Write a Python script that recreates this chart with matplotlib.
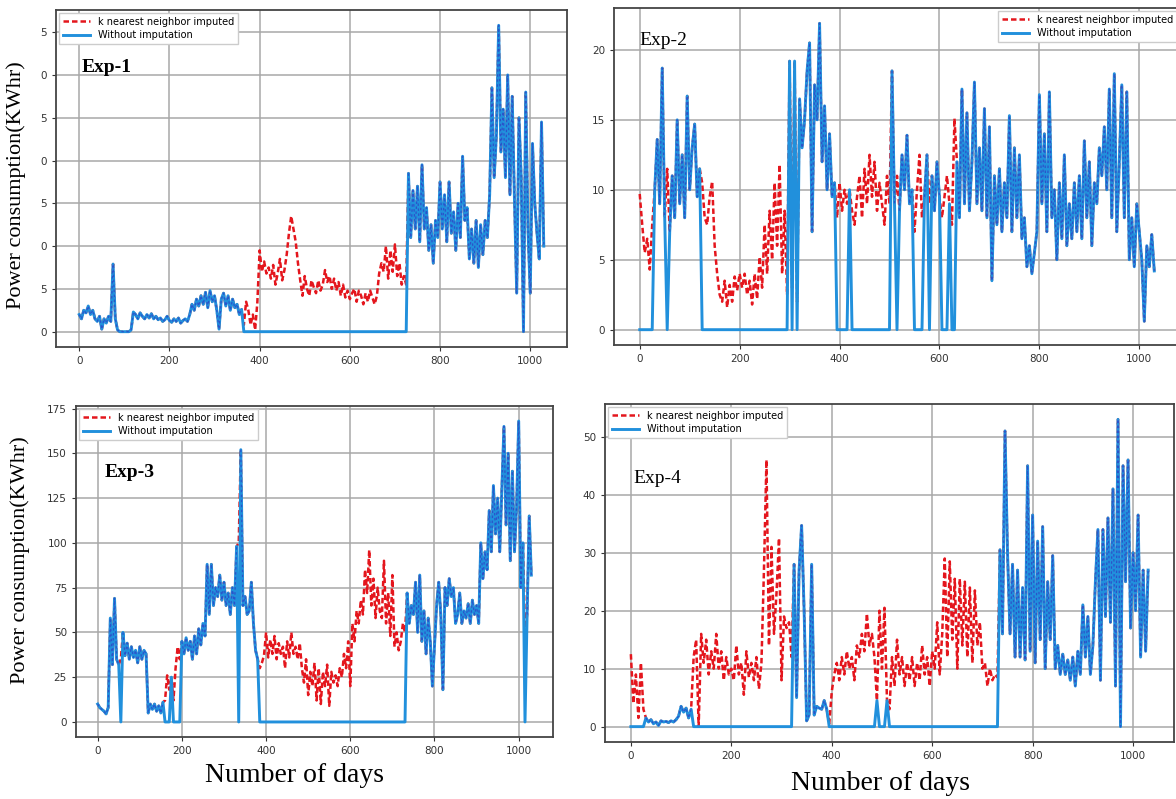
import numpy as np
import matplotlib
matplotlib.use("Agg")
import matplotlib.pyplot as plt

STEP = 5
LABEL_IMP = "k nearest neighbor imputed"
LABEL_RAW = "Without imputation"

exp1 = [
    2.0, 1.5, 2.5, 2.2, 3.0, 2.0, 2.5, 1.5, 1.2, 1.8,
    0.3, 1.5, 1.0, 1.8, 1.2, 7.9, 1.5, 0.2, 0.0, 0.0,
    0.0, 0.0, 0.0, 0.2, 2.3, 2.0, 1.5, 2.2, 1.8, 1.5,
    2.0, 1.6, 2.1, 1.5, 1.8, 1.4, 1.6, 1.2, 1.4, 1.8,
    1.3, 1.1, 1.5, 1.2, 1.6, 1.0, 1.3, 1.5, 1.2, 2.0,
    3.2, 2.5, 3.8, 3.0, 4.2, 3.2, 4.6, 2.8, 4.8, 3.5,
    4.2, 2.5, 0.3, 3.8, 4.5, 3.0, 4.2, 2.5, 3.8, 2.8,
    3.2, 2.0, 2.6, 0.8, 3.5, 2.5, 0.8, 2.0, 0.2, 3.5,
    9.5, 7.0, 8.2, 6.8, 7.5, 6.2, 7.8, 5.5, 6.8, 8.5,
    6.0, 7.2, 9.0, 11.5, 13.5, 12.0, 10.5, 8.0, 6.0, 4.2,
    6.5, 5.0, 4.2, 6.0, 5.2, 4.5, 6.0, 4.8, 5.5, 7.2,
    5.8, 6.5, 5.0, 6.2, 4.8, 5.8, 4.2, 5.5, 4.0, 4.8,
    3.8, 4.5, 5.0, 3.5, 4.8, 4.2, 3.2, 4.5, 3.5, 4.8,
    4.0, 3.2, 4.2, 6.8, 8.0, 7.0, 10.0, 6.2, 9.5, 7.0,
    10.2, 6.5, 8.0, 5.5, 6.5, 5.5, 18.5, 11.0, 16.5, 12.0,
    17.0, 10.5, 19.5, 12.0, 14.5, 9.5, 12.5, 8.0, 13.0, 11.0,
    17.5, 12.0, 16.0, 10.5, 17.5, 11.5, 14.0, 9.5, 15.0, 11.0,
    20.5, 13.0, 14.5, 8.5, 12.0, 8.0, 13.0, 7.5, 12.5, 9.0,
    13.0, 11.0, 16.0, 28.5, 18.0, 23.0, 35.8, 21.0, 26.0, 18.0,
    30.0, 16.0, 27.5, 15.5, 4.5, 25.0, 18.0, 0.0, 28.0, 12.0,
    4.5, 22.0, 15.0, 11.5, 8.5, 24.5, 10.0,
]
exp2 = [
    9.7, 7.5, 5.5, 6.5, 4.3, 7.5, 10.0, 13.6, 9.0, 18.7,
    8.0, 11.5, 7.0, 11.0, 8.0, 15.0, 9.0, 12.5, 8.0, 16.7,
    10.0, 13.0, 14.7, 9.5, 11.5, 10.5, 8.0, 7.5, 9.5, 10.6,
    6.0, 4.0, 2.5, 2.0, 3.5, 1.6, 3.2, 2.0, 3.8, 2.8,
    4.0, 3.0, 4.0, 2.5, 3.5, 1.8, 4.0, 2.2, 5.2, 3.0,
    7.5, 4.0, 8.5, 5.0, 10.5, 6.0, 11.8, 4.0, 8.5, 2.5,
    19.2, 3.0, 19.2, 2.0, 16.5, 13.0, 15.0, 18.5, 20.5, 7.0,
    17.5, 15.0, 21.9, 12.0, 16.0, 10.0, 14.0, 9.5, 10.5, 8.0,
    10.5, 8.5, 10.0, 9.0, 10.0, 8.5, 7.5, 9.5, 11.0, 8.0,
    11.5, 9.0, 12.5, 9.5, 12.0, 8.5, 10.5, 9.0, 7.5, 11.0,
    9.0, 18.5, 9.0, 11.0, 8.5, 12.5, 10.0, 13.9, 9.0, 10.0,
    7.0, 10.0, 12.5, 8.0, 9.5, 12.5, 9.0, 11.0, 8.5, 12.0,
    9.5, 8.0, 9.5, 11.0, 9.0, 7.5, 15.1, 12.0, 8.0, 17.2,
    9.0, 15.5, 8.5, 12.0, 17.7, 9.0, 13.0, 8.5, 15.8, 8.0,
    14.5, 3.5, 11.0, 7.5, 11.5, 7.0, 10.5, 8.0, 15.3, 7.0,
    13.0, 8.0, 12.5, 6.5, 8.0, 4.5, 6.0, 4.0, 5.5, 7.0,
    16.8, 9.0, 14.0, 7.0, 17.0, 8.0, 10.0, 5.0, 10.5, 6.5,
    12.5, 6.0, 9.0, 6.5, 10.5, 7.0, 11.0, 6.5, 13.5, 8.0,
    12.0, 6.0, 10.5, 9.0, 13.0, 11.0, 14.5, 10.0, 17.2, 8.0,
    18.3, 7.0, 12.0, 17.5, 8.0, 17.0, 5.0, 8.0, 4.5, 9.0,
    7.0, 5.0, 0.6, 6.0, 4.5, 6.8, 4.2,
]
exp3 = [
    10, 8, 7, 6, 4.5, 8, 58, 32, 69, 35,
    32, 35, 50, 37, 44, 35, 42, 36, 40, 33,
    42, 35, 40, 38, 5, 10, 7, 10, 6, 9,
    5, 11, 12, 26, 18, 25, 12, 30, 42, 35,
    45, 38, 47, 40, 45, 35, 48, 38, 52, 43,
    55, 48, 88, 60, 88, 65, 75, 70, 82, 68,
    78, 65, 72, 60, 75, 65, 98, 100, 152, 65,
    70, 60, 62, 78, 55, 40, 35, 30, 33, 37,
    50, 36, 46, 38, 48, 35, 44, 38, 42, 30,
    45, 36, 50, 38, 42, 35, 44, 30, 22, 35,
    15, 28, 20, 33, 12, 30, 10, 28, 20, 32,
    9, 28, 22, 26, 20, 30, 25, 38, 30, 45,
    20, 55, 45, 62, 55, 68, 60, 85, 72, 96,
    65, 80, 58, 75, 62, 58, 90, 55, 72, 48,
    82, 42, 50, 40, 45, 55, 50, 72, 55, 65,
    60, 78, 50, 82, 45, 62, 38, 58, 45, 20,
    42, 65, 78, 60, 18, 75, 65, 80, 70, 75,
    55, 60, 72, 55, 62, 58, 66, 55, 68, 60,
    65, 55, 100, 80, 95, 85, 118, 95, 132, 105,
    125, 95, 130, 165, 110, 150, 90, 140, 95, 120,
    168, 75, 100, 50, 60, 115, 82,
]
exp4 = [
    12.5, 4.0, 9.0, 1.5, 11.0, 3.0, 1.5, 0.8, 1.2, 0.5,
    0.8, 0.2, 1.0, 0.8, 0.9, 0.7, 1.0, 0.8, 1.2, 1.8,
    3.5, 2.5, 3.2, 1.5, 3.0, 12.0, 15.0, 0.0, 16.0, 11.0,
    15.0, 9.0, 13.0, 10.0, 16.0, 10.0, 13.0, 8.0, 12.0, 9.0,
    10.0, 8.0, 14.0, 9.0, 11.0, 5.5, 13.0, 8.5, 11.0, 8.0,
    12.0, 6.5, 11.0, 27.0, 46.0, 14.0, 31.0, 16.0, 23.0, 32.5,
    8.0, 19.0, 17.0, 18.0, 12.0, 28.0, 5.0, 27.0, 34.7, 20.0,
    1.0, 2.0, 28.0, 2.0, 3.5, 3.2, 3.0, 4.5, 3.0, 0.5,
    6.0, 9.0, 11.0, 8.0, 12.0, 9.0, 13.0, 10.0, 12.0, 8.0,
    14.0, 12.0, 16.0, 13.0, 19.5, 14.0, 16.0, 12.0, 4.5, 20.0,
    10.0, 20.5, 4.5, 3.0, 12.0, 7.0, 15.0, 9.0, 12.0, 7.0,
    11.0, 8.0, 12.0, 7.0, 11.0, 8.0, 14.0, 9.0, 12.0, 7.0,
    13.0, 10.0, 18.0, 9.0, 16.0, 29.0, 12.0, 28.5, 15.0, 25.5,
    10.0, 25.5, 14.0, 25.0, 12.0, 24.0, 11.0, 23.5, 14.0, 18.0,
    10.0, 11.0, 7.0, 10.0, 8.0, 9.0, 8.5, 30.5, 16.0, 51.0,
    30.0, 16.0, 28.0, 12.0, 27.0, 12.0, 24.0, 11.5, 45.0, 13.0,
    36.5, 11.0, 32.0, 15.0, 34.5, 10.0, 25.0, 15.0, 29.5, 10.0,
    14.0, 9.0, 12.5, 9.0, 11.5, 8.0, 12.0, 7.0, 13.0, 9.0,
    21.0, 12.0, 19.0, 9.0, 14.0, 25.0, 34.0, 8.0, 34.0, 19.0,
    36.0, 18.0, 41.0, 7.0, 53.0, 0.0, 45.0, 25.0, 46.0, 17.0,
    30.0, 20.0, 36.5, 12.0, 27.0, 13.0, 27.0,
]

# day ranges with no recorded reading (shown as 0 without imputation)
gaps1 = [(363, 728)]
gaps2 = [(0, 29), (53, 56), (124, 297), (302, 308), (312, 318), (392, 417),
         (423, 502), (512, 518), (546, 566), (576, 584), (603, 617), (622, 632)]
gaps3 = [(53, 57), (158, 174), (178, 197), (334, 336), (383, 732), (1013, 1017)]
gaps4 = [(0, 28), (123, 322), (393, 487), (493, 507), (513, 732)]

names = ["Exp-1", "Exp-2", "Exp-3", "Exp-4"]
yticks = [[0, 5, 10, 15, 20, 25, 30, 35], [0, 5, 10, 15, 20],
          [0, 25, 50, 75, 100, 125, 150, 175], [0, 10, 20, 30, 40, 50]]
ytick_labels = [["0", "5", "0", "5", "0", "5", "0", "5"], None, None, None]
xticks = [0, 200, 400, 600, 800, 1000]

RED, BLUE, NAVY = "#e4161d", "#2190dc", "#2f3fc4"
W, H = 1176, 799
fig = plt.figure(figsize=(W / 100, H / 100), dpi=100)


def box(l, r, t, b):
    return [l / W, 1 - b / H, (r - l) / W, (b - t) / H]


rects = [box(56, 567, 10, 347), box(614, 1180, 8, 345),
         box(76, 553, 406, 737), box(605, 1174, 404, 742)]
legend_loc = ["upper left", "upper right", "upper left", "upper left"]
name_pos = [(0.05, 0.83), (0.045, 0.905), (0.06, 0.80), (0.05, 0.78)]
name_weight = ["bold", "normal", "bold", "normal"]

for k, (vals, gaps) in enumerate(zip([exp1, exp2, exp3, exp4], [gaps1, gaps2, gaps3, gaps4])):
    y = np.array(vals, dtype=float)
    x = np.arange(len(y)) * STEP
    miss = np.zeros(len(y), bool)
    for a, b in gaps:
        miss |= (x >= a) & (x <= b)
    raw = np.where(miss, 0.0, y)
    seen = np.where(miss, np.nan, y)

    ax = fig.add_axes(rects[k])
    ax.plot(x, y, color=RED, ls="--", lw=1.8, dashes=(2.2, 1.2), label=LABEL_IMP, zorder=2)
    ax.plot(x, raw, color=BLUE, lw=2.1, label=LABEL_RAW, zorder=3)
    ax.plot(x, seen, color=NAVY, ls="--", lw=0.9, dashes=(2, 2), alpha=0.75, zorder=4)

    ax.set_xticks(xticks)
    ax.set_yticks(yticks[k])
    if ytick_labels[k]:
        ax.set_yticklabels(ytick_labels[k])
    ax.grid(True, color="#a8a8a8", lw=1.1)
    ax.set_axisbelow(True)
    ax.tick_params(labelsize=7.5, colors="#333333", length=3)
    for s in ax.spines.values():
        s.set_color("#444444")
        s.set_linewidth(1.3)
    ax.legend(loc=legend_loc[k], fontsize=7, borderaxespad=0.3, handlelength=2.8,
              labelspacing=0.35, framealpha=1, edgecolor="#cccccc", fancybox=False)
    ax.text(*name_pos[k], names[k], transform=ax.transAxes, fontsize=14,
            family="Liberation Serif", fontweight=name_weight[k], va="center")

ylab = "Power consumption(KWhr)"
fig.text(16 / W, 1 - 185 / H, ylab, rotation=90, ha="center", va="center",
         fontsize=16, family="Liberation Serif")
fig.text(20 / W, 1 - 560 / H, ylab, rotation=90, ha="center", va="center",
         fontsize=16, family="Liberation Serif")
fig.text(295 / W, 1 - 775 / H, "Number of days", ha="center", va="center",
         fontsize=20, family="Liberation Serif")
fig.text(880 / W, 1 - 783 / H, "Number of days", ha="center", va="center",
         fontsize=20, family="Liberation Serif")

fig.savefig("out.png", dpi=100)
